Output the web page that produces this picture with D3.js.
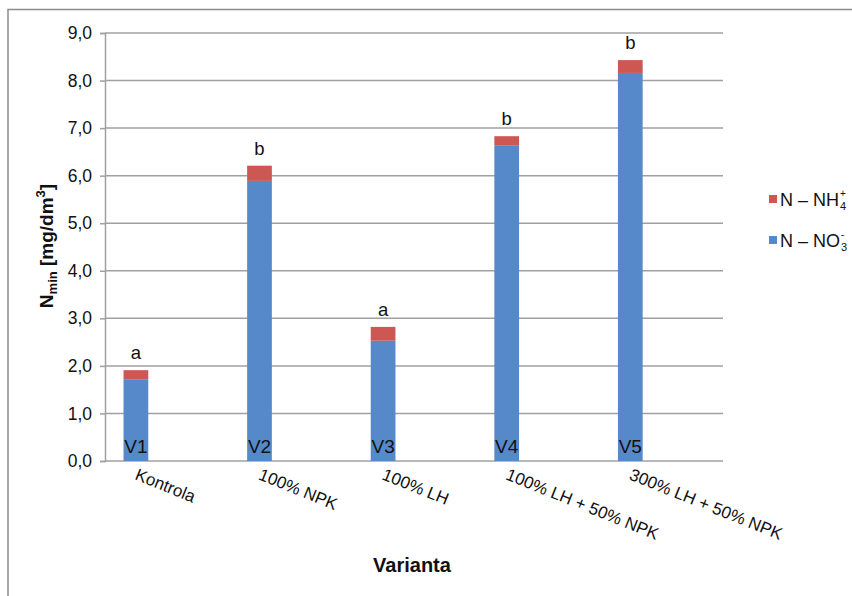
<!DOCTYPE html>
<html>
<head>
<meta charset="utf-8">
<script src="https://cdn.jsdelivr.net/npm/d3@7"></script>
<style>
  body { margin: 0; background: #fff; }
  svg { font-family: "Liberation Sans", Arial, sans-serif; }
</style>
</head>
<body>
<svg id="chart" width="852" height="596"></svg>
<script>
// data
const variants = ["V1", "V2", "V3", "V4", "V5"];
const categories = ["Kontrola", "100% NPK", "100% LH", "100% LH + 50% NPK", "300% LH + 50% NPK"];
const no3 = [1.72, 5.89, 2.53, 6.64, 8.16];
const nh4 = [0.19, 0.32, 0.29, 0.19, 0.27];
const letters = ["a", "b", "a", "b", "b"];
const yTicks = [0, 1, 2, 3, 4, 5, 6, 7, 8, 9];

const blue = "#5689c9", red = "#cc5753";
const margin = {top: 33, left: 105, right: 129, bottom: 135};
const width = 852, height = 596;

const svg = d3.select("#chart");

// outer border (right and bottom run off the picture)
svg.append("rect")
    .attr("x", 8).attr("y", 9.5)
    .attr("width", 900).attr("height", 700)
    .attr("fill", "none").attr("stroke", "#8c8c8c").attr("stroke-width", 1.5);

const x = d3.scaleBand()
    .domain(categories)
    .range([margin.left, width - margin.right]);

const y = d3.scaleLinear()
    .domain([0, 9])
    .range([height - margin.bottom, margin.top]);

const fmt = d => d.toFixed(1).replace(".", ",");

// gridlines
svg.append("g")
    .selectAll("line")
    .data(yTicks.slice(1))
    .join("line")
    .attr("x1", margin.left).attr("x2", width - margin.right)
    .attr("y1", d => y(d)).attr("y2", d => y(d))
    .attr("stroke", "#a0a0a0").attr("stroke-width", 1.5);

// Y axis
const yAxis = svg.append("g")
    .attr("transform", "translate(" + margin.left + ",0)")
    .call(d3.axisLeft(y).tickValues(yTicks).tickFormat(fmt).tickSize(5).tickPadding(8));
yAxis.select(".domain").attr("stroke", "#a0a0a0").attr("stroke-width", 1.5);
yAxis.selectAll(".tick line").attr("stroke", "#a0a0a0").attr("stroke-width", 1.5);
yAxis.selectAll(".tick text").attr("font-size", "17.5px").attr("fill", "#111")
    .attr("font-family", "Liberation Sans, Arial, sans-serif");

// X axis line
svg.append("line")
    .attr("x1", margin.left).attr("x2", width - margin.right)
    .attr("y1", y(0)).attr("y2", y(0))
    .attr("stroke", "#a0a0a0").attr("stroke-width", 1.5);

// bars sit in the left half of each band
const barW = x.bandwidth() * 0.2;
const barX = c => x(c) + x.bandwidth() / 4 - barW / 2;
const barC = c => x(c) + x.bandwidth() / 4;

const rows = categories.map((c, i) => ({c, i, a: no3[i], b: nh4[i]}));

svg.append("g").selectAll("rect")
    .data(rows).join("rect")
    .attr("x", d => barX(d.c)).attr("width", barW)
    .attr("y", d => y(d.a)).attr("height", d => y(0) - y(d.a))
    .attr("fill", blue);

svg.append("g").selectAll("rect")
    .data(rows).join("rect")
    .attr("x", d => barX(d.c)).attr("width", barW)
    .attr("y", d => y(d.a + d.b)).attr("height", d => y(d.a) - y(d.a + d.b))
    .attr("fill", red);

// significance letters
svg.append("g").selectAll("text")
    .data(rows).join("text")
    .attr("x", d => barC(d.c)).attr("y", d => y(d.a + d.b) - 11)
    .attr("text-anchor", "middle").attr("font-size", "18.5px").attr("fill", "#111")
    .text(d => letters[d.i]);

// V labels inside bars
svg.append("g").selectAll("text")
    .data(rows).join("text")
    .attr("x", d => barC(d.c)).attr("y", y(0) - 8)
    .attr("text-anchor", "middle").attr("font-size", "19px").attr("fill", "#111")
    .text(d => variants[d.i]);

// category labels, rotated
svg.append("g").selectAll("text")
    .data(categories).join("text")
    .attr("transform", c => `translate(${barC(c) - 2},${y(0) + 18}) rotate(22)`)
    .attr("font-size", "17px").attr("fill", "#111")
    .text(c => c);

// x title
svg.append("text")
    .attr("x", 412).attr("y", 572)
    .attr("text-anchor", "middle").attr("font-size", "20px").attr("font-weight", "bold")
    .attr("fill", "#111")
    .text("Varianta");

// y title
const yt = svg.append("text")
    .attr("transform", "translate(53,246) rotate(-90)")
    .attr("text-anchor", "middle").attr("font-size", "19px").attr("font-weight", "bold")
    .attr("fill", "#111");
yt.append("tspan").text("N");
yt.append("tspan").attr("font-size", "13px").attr("dy", 4).text("min");
yt.append("tspan").attr("dy", -4).text(" [mg/dm");
yt.append("tspan").attr("font-size", "13px").attr("dy", -8).text("3");
yt.append("tspan").attr("dy", 8).text("]");

// legend
const legendItems = [
    {color: red, sup: "+", sub: "4", label: "N \u2013 NH", y: 199},
    {color: blue, sup: "-", sub: "3", label: "N \u2013 NO", y: 240}
];
const lg = svg.append("g").selectAll("g")
    .data(legendItems).join("g")
    .attr("transform", d => `translate(769,${d.y})`);
lg.append("rect")
    .attr("x", 0).attr("y", -4).attr("width", 8).attr("height", 8)
    .attr("fill", d => d.color);
lg.append("text")
    .attr("class", "lab")
    .attr("x", 11).attr("y", 6.5)
    .attr("font-size", "18px").attr("fill", "#111")
    .text(d => d.label);
lg.each(function() {
    const g = d3.select(this);
    const w = g.select(".lab").node().getComputedTextLength();
    const d = g.datum();
    g.append("text")
        .attr("x", 12 + w).attr("y", -2)
        .attr("font-size", "10px").attr("fill", "#111")
        .text(d.sup);
    g.append("text")
        .attr("x", 12 + w).attr("y", 11)
        .attr("font-size", "11px").attr("fill", "#111")
        .text(d.sub);
});
</script>
</body>
</html>
